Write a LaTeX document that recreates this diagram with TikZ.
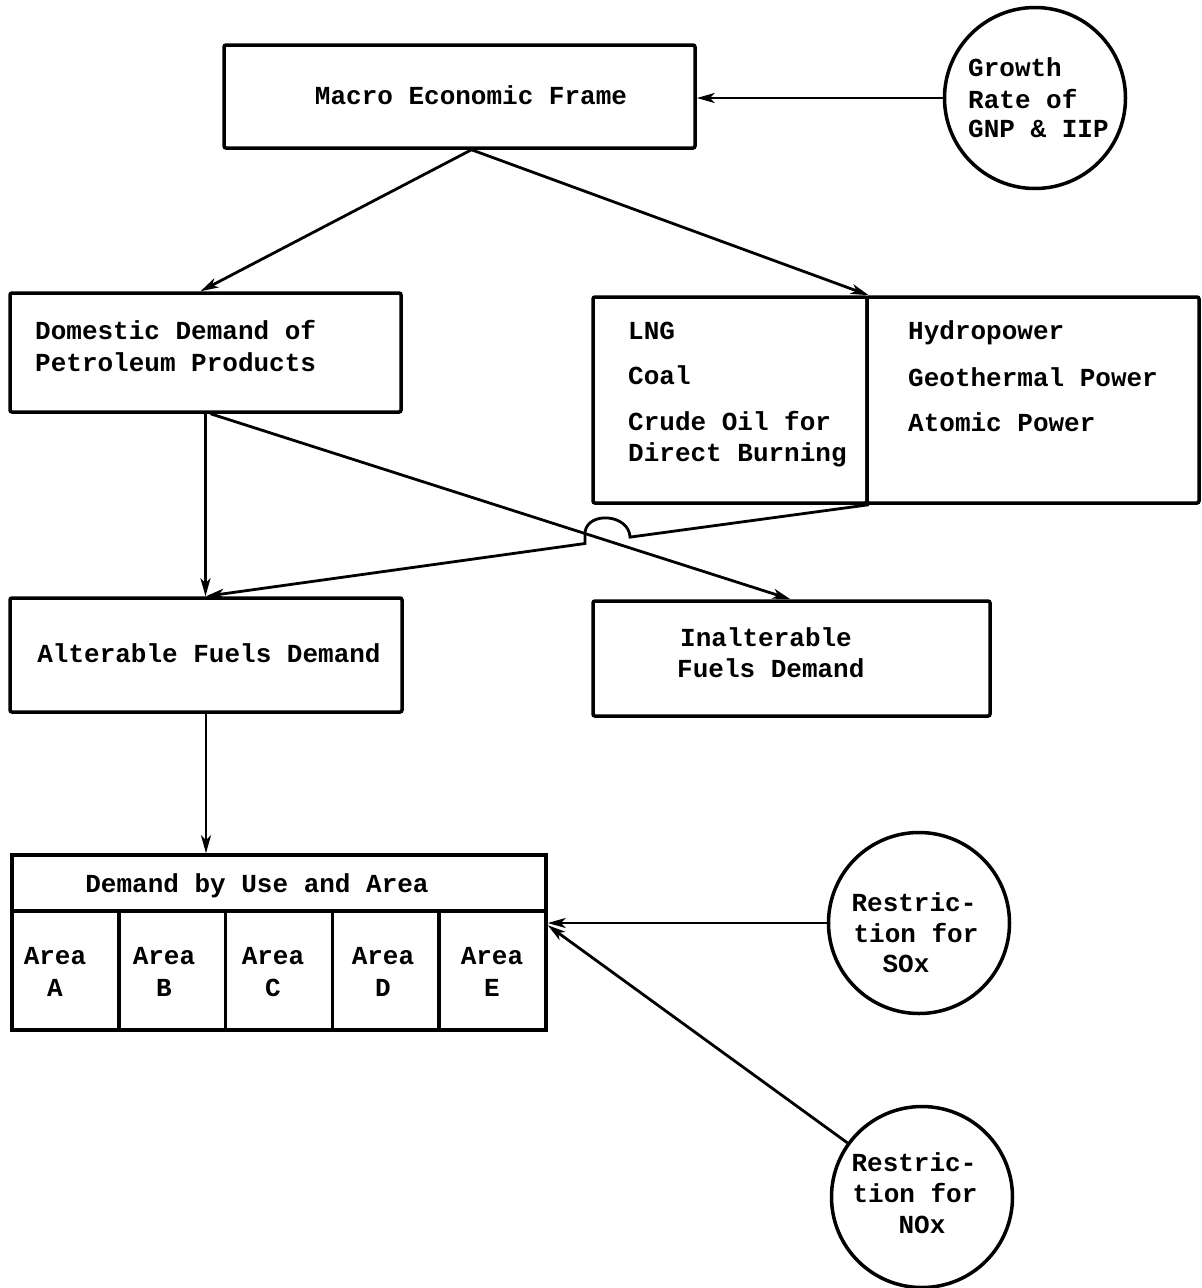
\documentclass[tikz,border=0pt]{standalone}
\usepackage{fontspec}
\newfontfamily\twfont{Liberation Mono}
\usetikzlibrary{arrows.meta,calc}
\begin{document}
\begin{tikzpicture}[x=1pt,y=-1pt,
  every node/.style={font=\twfont\bfseries\fontsize{26}{31}\selectfont},
  box/.style={draw,line width=3.5pt,rounded corners=2pt,inner sep=0pt},
  circ/.style={draw,circle,line width=3.5pt,inner sep=0pt,minimum size=181pt},
  tl/.style={inner sep=0pt,anchor=base west},
  tc/.style={inner sep=0pt,anchor=base},
  arr/.style={line width=2.8pt,-{Stealth[length=18pt,width=10pt,inset=5pt]}},
]
\useasboundingbox (0,0) rectangle (1202,1288);

% top
\node[box,minimum width=471pt,minimum height=103pt] (macro) at (459.5,96.5) {};
\node[tc] (macrot) at (471,104) {Macro Economic Frame};
\node[circ] (growth) at (1035,98) {};
\node[tl] (g1) at (968,76) {Growth};
\node[tl] (g2) at (968,108) {Rate of};
\node[tl] (g3) at (968,137) {GNP \& IIP};

% domestic
\node[box,minimum width=391pt,minimum height=119pt] (dom) at (205.5,352.5) {};
\node[tl] (d1) at (35,339) {Domestic Demand of};
\node[tl] (d2) at (35,371) {Petroleum Products};

% right box
\node[box,minimum width=274pt,minimum height=206pt] (rl) at (730,400) {};
\node[box,minimum width=332pt,minimum height=206pt] (rr) at (1033,400) {};
\node[tl] (r1) at (628,339) {LNG};
\node[tl] (r2) at (628,384) {Coal};
\node[tl] (r3) at (628,430) {Crude Oil for};
\node[tl] (r4) at (628,461) {Direct Burning};
\node[tl] (s1) at (908,339) {Hydropower};
\node[tl] (s2) at (908,386) {Geothermal Power};
\node[tl] (s3) at (908,431) {Atomic Power};

% alterable / inalterable
\node[box,minimum width=392pt,minimum height=114pt] (alt) at (206,655) {};
\node[tc] (altt) at (209,662) {Alterable Fuels Demand};
\node[box,minimum width=397pt,minimum height=115pt] (inal) at (791.5,658.5) {};
\node[tl] (i1) at (680,646) {Inalterable};
\node[tl] (i2) at (677,677) {Fuels Demand};

% demand by use and area
\node[box,rounded corners=0pt,minimum width=534pt,minimum height=56pt] (head) at (279,883) {};
\node[tc] (headt) at (257,892) {Demand by Use and Area};
\foreach \n/\cx/\tx/\L in {A/65.4/55/A,B/172.2/164/B,C/279/273/C,D/385.8/383/D,E/492.6/492/E}{
  \node[box,rounded corners=0pt,minimum width=106.8pt,minimum height=119pt] (cell\n) at (\cx,970.5) {};
  \node[tc] (cellt\n) at (\tx,964) {Area};
  \node[tc] (celll\n) at (\tx,996) {\L};
}

% restriction circles
\node[circ] (sox) at (919,923) {};
\node[tc] (x1) at (914,911) {Restric-};
\node[tc] (x2) at (916,942) {tion for};
\node[tc] (x3) at (906,972) {SOx};
\node[circ] (nox) at (922,1197) {};
\node[tc] (y1) at (914,1171) {Restric-};
\node[tc] (y2) at (915,1202) {tion for};
\node[tc] (y3) at (922,1233) {NOx};

% connectors
\draw[arr] (growth.west) -- (macro.east |- growth.west);
\coordinate (ms) at ([xshift=12pt]macro.south);
\draw[arr] (ms) -- ([xshift=-5pt]dom.north);
\draw[arr] (ms) -- (rl.north east);
\draw[arr] (dom.south) -- (dom.south |- alt.north);
\draw[arr] ([xshift=5pt]dom.south) -- ([xshift=-1pt]inal.north);
\coordinate (h1) at (630,537.1);
\coordinate (h2) at (585,532);
\coordinate (h3) at (585,543.5);
\draw[arr] (rl.south east) -- (h1) .. controls (629,514) and (588,511) .. (h2) -- (h3) -- (alt.north);
\draw[arr] (alt.south) -- (alt.south |- head.north);
\draw[arr] (sox.west) -- (cellE.east |- sox.west);
\draw[arr] (nox) -- ([yshift=-16pt]cellE.north east);
\end{tikzpicture}
\end{document}
